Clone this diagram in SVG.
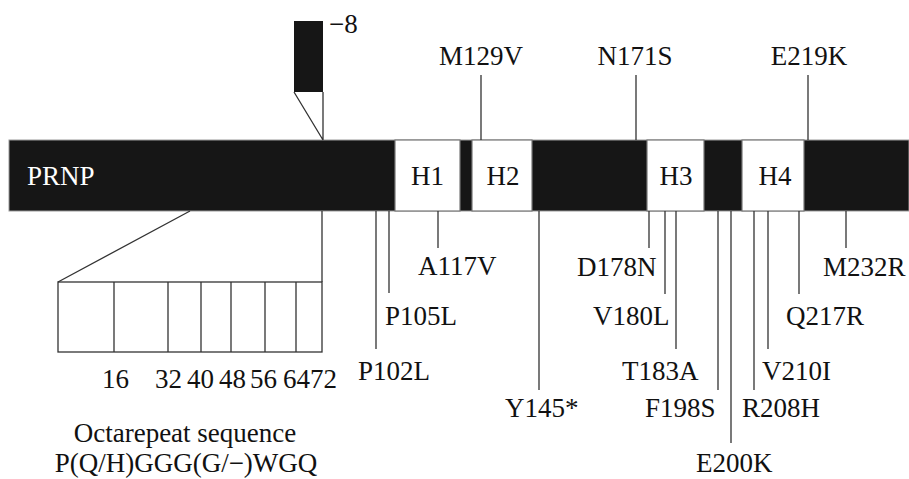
<svg xmlns="http://www.w3.org/2000/svg" width="909" height="479" viewBox="0 0 909 479">
<style>
text{font-family:"Liberation Serif","Times New Roman",serif;font-size:27px;fill:#111}
.w{fill:#fff}
.ln{stroke:#333;stroke-width:1.3;fill:none}
.hx{fill:#fff;stroke:#777;stroke-width:1.2}
</style>
<rect width="909" height="479" fill="#fff"/>
<g id="prnp">
<rect x="9" y="140" width="900" height="71" fill="#161616" stroke="#999" stroke-width="1"/>
<text class="w" x="27" y="185">PRNP</text>
</g>
<g id="h1"><rect class="hx" x="395" y="140" width="65" height="71"/><text x="427.5" y="185" text-anchor="middle">H1</text></g>
<g id="h2"><rect class="hx" x="472" y="140" width="60" height="71"/><text x="503" y="185" text-anchor="middle">H2</text></g>
<g id="h3"><rect class="hx" x="647" y="140" width="57" height="71"/><text x="676" y="185" text-anchor="middle">H3</text></g>
<g id="h4"><rect class="hx" x="742" y="140" width="62" height="71"/><text x="775" y="185" text-anchor="middle">H4</text></g>
<g id="insert">
<rect x="294" y="21" width="29" height="71" fill="#161616"/>
<text x="329" y="33">−8</text>
</g>
<g id="octarepeat">
<rect class="ln" x="58" y="282" width="264" height="70"/>
<path class="ln" d="M114 282V352M168 282V352M201 282V352M231 282V352M265 282V352M296 282V352"/>
<text y="388"><tspan x="102">16</tspan><tspan x="155">32</tspan><tspan x="187">40</tspan><tspan x="219">48</tspan><tspan x="250">56</tspan><tspan x="283">6472</tspan></text>
<text x="185" y="442" text-anchor="middle">Octarepeat sequence</text>
<text x="186" y="472" text-anchor="middle">P(Q/H)GGG(G/−)WGQ</text>
</g>
<g id="connectors">
<path class="ln" d="M294 92L323 140M323 92V140"/>
<path class="ln" d="M190 211L58 282M322 211V282"/>
<path class="ln" d="M481 75V140M636 75V140M808 75V140"/>
<path class="ln" d="M376 211V349M389 211V293M438 211V248M539 211V390M649 211V248M665 211V294M676 211V349M718 211V390M731 211V443M754 211V390M768 211V349M799 211V294M846 211V248"/>
</g>
<g id="labels">
<text x="481" y="65" text-anchor="middle">M129V</text>
<text x="635" y="65" text-anchor="middle">N171S</text>
<text x="809" y="65" text-anchor="middle">E219K</text>
<text x="358" y="380">P102L</text>
<text x="385" y="325">P105L</text>
<text x="418" y="275">A117V</text>
<text x="505" y="417">Y145*</text>
<text x="577" y="276">D178N</text>
<text x="593" y="325">V180L</text>
<text x="622" y="380">T183A</text>
<text x="645" y="417">F198S</text>
<text x="696" y="472">E200K</text>
<text x="742" y="417">R208H</text>
<text x="762" y="380">V210I</text>
<text x="786" y="325">Q217R</text>
<text x="823" y="276">M232R</text>
</g>
</svg>
